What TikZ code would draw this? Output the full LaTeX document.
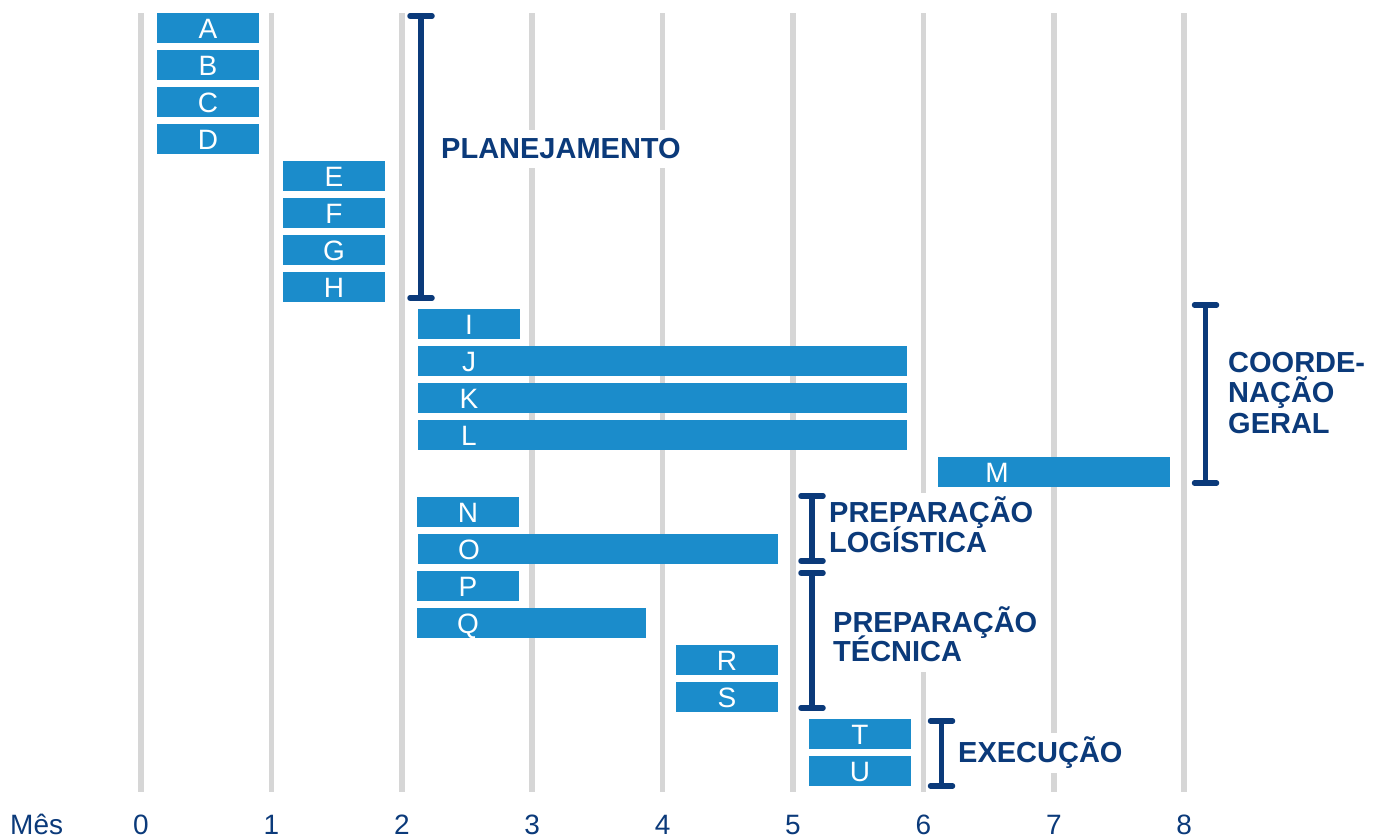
\documentclass[tikz,border=0pt]{standalone}
\usepackage{fontspec}
\setmainfont{Liberation Sans}
\definecolor{barblue}{HTML}{1B8CCB}
\definecolor{navy}{HTML}{0B3A7A}
\definecolor{gridgray}{HTML}{D6D6D6}
\newcommand\gbar[6]{%
  \node[bar, minimum width={(#3)-(#2)}] (#1) at (#2,#4) {};
  \node[barlabel] (#1t) at ({#5},{#4+10}) {#6};}
\newcommand\brkt[4]{% name, x, top, bottom
  \coordinate (#1t) at (#2,#3);
  \coordinate (#1b) at (#2,#4);
  \draw[brk] ([xshift=-11pt]#1t) -- ([xshift=11pt]#1t)
             (#1t) -- (#1b)
             ([xshift=-11pt]#1b) -- ([xshift=11pt]#1b);}
\begin{document}
\begin{tikzpicture}[x=1pt,y=-1pt,
  bar/.style={fill=barblue, draw=none, inner sep=0, minimum height=30, anchor=west},
  barlabel/.style={text=white, font=\fontsize{28}{30}\selectfont, inner sep=0, anchor=base},
  gridline/.style={draw=gridgray, line width=5.5},
  brk/.style={draw=navy, line width=5.5, line cap=round},
  grp/.style={text=navy, font=\bfseries\fontsize{29}{30}\selectfont, inner sep=0, anchor=base west},
  axis/.style={text=navy, font=\fontsize{28}{30}\selectfont, inner sep=0, anchor=base}]
\useasboundingbox (0,0) rectangle (1383,838);
% grid
\foreach \m in {0,...,8} {
  \draw[gridline] ({141+130.4*\m},13) -- ({141+130.4*\m},792);
  \node[axis] (ax\m) at ({141+130.4*\m},834) {\m};
}
\node[axis, anchor=base west] (mes) at (10,834) {Mês};
% gaps behind labels
\fill[white] (436,130) rectangle (690,168);
\fill[white] (825,493) rectangle (1044,563);
\fill[white] (828,563) rectangle (1046,672);
\fill[white] (953,733) rectangle (1128,773);
% bars
\gbar{A}{157}{259}{28}{208}{A}
\gbar{B}{157}{259}{65}{208}{B}
\gbar{C}{157}{259}{102}{208}{C}
\gbar{D}{157}{259}{139}{208}{D}
\gbar{E}{283}{385}{176}{334}{E}
\gbar{F}{283}{385}{213}{334}{F}
\gbar{G}{283}{385}{250}{334}{G}
\gbar{H}{283}{385}{287}{334}{H}
\gbar{I}{418}{520}{324}{469}{I}
\gbar{J}{418}{907}{361}{469}{J}
\gbar{K}{418}{907}{398}{469}{K}
\gbar{L}{418}{907}{435}{469}{L}
\gbar{M}{938}{1170}{472}{997}{M}
\gbar{N}{417}{519}{512}{468}{N}
\gbar{O}{418}{778}{549}{469}{O}
\gbar{P}{417}{519}{586}{468}{P}
\gbar{Q}{417}{646}{623}{468}{Q}
\gbar{R}{676}{778}{660}{727}{R}
\gbar{S}{676}{778}{697}{727}{S}
\gbar{T}{809}{911}{734}{860}{T}
\gbar{U}{809}{911}{771}{860}{U}
% brackets
\brkt{pl}{421}{16}{298}
\brkt{co}{1205.5}{305}{483}
\brkt{lo}{812}{496}{561}
\brkt{te}{812}{573}{708}
\brkt{ex}{941.5}{721}{786}
% group labels
\node[grp] (plan) at (441,158) {PLANEJAMENTO};
\node[grp] (coord1) at (1228,372) {COORDE-};
\node[grp] (coord2) at (1228,402) {NAÇÃO};
\node[grp] (coord3) at (1228,433) {GERAL};
\node[grp] (log1) at (829,522) {PREPARAÇÃO};
\node[grp] (log2) at (829,552) {LOGÍSTICA};
\node[grp] (tec1) at (833,632) {PREPARAÇÃO};
\node[grp] (tec2) at (833,661) {TÉCNICA};
\node[grp] (exec) at (958,762) {EXECUÇÃO};
\end{tikzpicture}
\end{document}
